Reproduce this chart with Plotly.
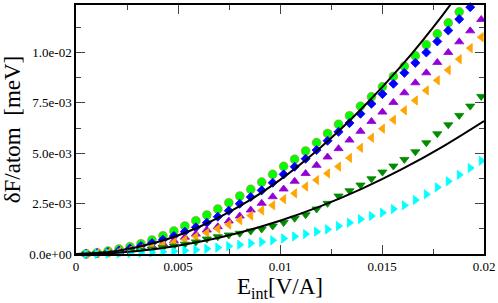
import plotly.graph_objects as go

# ---- data ----
e_field = [0.000495, 0.001033, 0.001571, 0.002109, 0.002647, 0.003185, 0.003723,
           0.004261, 0.004799, 0.005337, 0.005875, 0.006413, 0.006951, 0.007489,
           0.008027, 0.008565, 0.009103, 0.009641, 0.010179, 0.010717, 0.011255,
           0.011793, 0.012331, 0.012869, 0.013407, 0.013945, 0.014483, 0.015021,
           0.015559, 0.016097, 0.016635, 0.017173, 0.017711, 0.018249, 0.018787,
           0.019325, 0.019863]

green_circles = [0.00001, 0.000064, 0.000149, 0.000248, 0.000362, 0.000511, 0.000694,
                 0.000908, 0.001141, 0.001389, 0.001652, 0.001935, 0.002232, 0.002545,
                 0.002877, 0.003209, 0.003571, 0.003953, 0.00435, 0.004705, 0.005115,
                 0.00553, 0.005987, 0.00644, 0.00686, 0.00734, 0.007802, 0.008299,
                 0.008814, 0.009325, 0.009836, 0.010382, 0.010928, 0.011473, 0.012019]

blue_diamonds = [0.00001, 0.000042, 0.000096, 0.000173, 0.000273, 0.000396, 0.00054,
                 0.000708, 0.000893, 0.001106, 0.001324, 0.001553, 0.00185, 0.002148,
                 0.002495, 0.002827, 0.00316, 0.003537, 0.003953, 0.00433, 0.004727,
                 0.005159, 0.00562, 0.006066, 0.006498, 0.00696, 0.007456, 0.007937,
                 0.008448, 0.008993, 0.009489, 0.010005, 0.010551, 0.011096, 0.011657,
                 0.012252]

violet_up = [0.000007, 0.00003, 0.00007, 0.000126, 0.000198, 0.000287, 0.000392,
             0.000514, 0.00066, 0.00083, 0.00099, 0.00119, 0.001354, 0.001637,
             0.001885, 0.002183, 0.002515, 0.002842, 0.003225, 0.00361, 0.003995,
             0.0044, 0.004815, 0.00523, 0.005655, 0.00609, 0.006582, 0.007044,
             0.007525, 0.008001, 0.008497, 0.008993, 0.009509, 0.010005, 0.010531,
             0.011076, 0.011642]

orange_left = [0.000006, 0.000027, 0.000062, 0.000111, 0.000175, 0.000254, 0.000347,
               0.000454, 0.000576, 0.000713, 0.000863, 0.00105, 0.00125, 0.00146,
               0.00168, 0.00191, 0.00216, 0.00242, 0.00272, 0.00301, 0.00335,
               0.00367, 0.004, 0.00434, 0.00477, 0.00527, 0.00577, 0.00622,
               0.00666, 0.00713, 0.00762, 0.00812, 0.00862, 0.00913, 0.00967,
               0.01022, 0.01076]

darkgreen_down = [0.000004, 0.000018, 0.000042, 0.000076, 0.000119, 0.000172, 0.000236,
                  0.000309, 0.000392, 0.000484, 0.0006, 0.000744, 0.000858, 0.000942,
                  0.001027, 0.001141, 0.00124, 0.001389, 0.00156, 0.001771, 0.001949,
                  0.002232, 0.002515, 0.002877, 0.00314, 0.003423, 0.003735, 0.004068,
                  0.004365, 0.004697, 0.005074, 0.005521, 0.005967, 0.006414, 0.00688,
                  0.007341, 0.007822]

cyan_right = [0.000001, 0.000006, 0.000014, 0.000025, 0.00004, 0.00006, 0.00008,
              0.00011, 0.00014, 0.00017, 0.00021, 0.00026, 0.00032, 0.00039,
              0.00046, 0.00053, 0.0006, 0.00068, 0.00077, 0.00087, 0.00099,
              0.001106, 0.001225, 0.001389, 0.001553, 0.00173, 0.001885, 0.002049,
              0.002232, 0.002416, 0.002679, 0.002961, 0.003309, 0.003606, 0.003933,
              0.004266, 0.004628]

fit_x = [0.0, 0.002, 0.004, 0.006, 0.008, 0.01, 0.012, 0.014, 0.016, 0.018, 0.02]
fit_upper = [0.0, 0.000148, 0.000592, 0.00133, 0.00236, 0.00368, 0.0053,
             0.00721, 0.0094, 0.0119, 0.0147]
fit_lower = [0.0, 0.000066, 0.000264, 0.000594, 0.001056, 0.00165, 0.002376,
             0.003234, 0.004224, 0.005346, 0.0066]

x_tick_vals = [0, 0.005, 0.01, 0.015, 0.02]
x_tick_text = ["0", "0.005", "0.01", "0.015", "0.02"]
y_tick_vals = [0, 0.0025, 0.005, 0.0075, 0.01]
y_tick_text = ["0.0e+00", "2.5e-03", "5.0e-03", "7.5e-03", "1.0e-02"]
x_minor_vals = [0.0025, 0.0075, 0.0125, 0.0175]
y_minor_vals = [0.00125, 0.00375, 0.00625, 0.00875, 0.01125]

# ---- figure ----
fig = go.Figure()

series = [
    (green_circles, "circle", "#00ff00", 9, "rgba(255,90,90,0.55)"),
    (blue_diamonds, "diamond", "#0000ff", 7, "#0000ff"),
    (violet_up, "triangle-up", "#9400d3", 8, "#9400d3"),
    (orange_left, "triangle-left", "#ffa500", 8, "#ffa500"),
    (darkgreen_down, "triangle-down", "#008b00", 8, "#008b00"),
    (cyan_right, "triangle-right", "#00ffff", 8, "#00ffff"),
]
for vals, sym, col, size, edge in series:
    fig.add_trace(go.Scatter(
        x=e_field[:len(vals)], y=vals, mode="markers", cliponaxis=False,
        marker=dict(symbol=sym, color=col, size=size, line=dict(color=edge, width=0.8)),
        showlegend=False))

for vals in (fit_upper, fit_lower):
    fig.add_trace(go.Scatter(x=fit_x, y=vals, mode="lines", line_shape="spline",
                             line=dict(color="black", width=2), showlegend=False))

serif = "Liberation Serif"
axis_common = dict(
    showline=True, linecolor="black", linewidth=1.5, mirror="ticks",
    ticks="inside", ticklen=9, tickwidth=1.2, tickcolor="#444",
    showgrid=False, zeroline=False,
    tickfont=dict(family=serif, size=13, color="black"),
    minor=dict(tickmode="array", ticks="inside", ticklen=5, tickwidth=1.2, tickcolor="#444",
               showgrid=False),
)

fig.update_xaxes(**axis_common)
fig.update_xaxes(range=[0, 0.02], tickmode="array", tickvals=x_tick_vals, ticktext=x_tick_text,
                 minor_tickvals=x_minor_vals,
                 title=dict(text="E<sub>int</sub>[V/A]", font=dict(family=serif, size=23, color="black"),
                            standoff=2))
fig.update_yaxes(**axis_common)
fig.update_yaxes(range=[0, 0.01236], tickmode="array", tickvals=y_tick_vals, ticktext=y_tick_text,
                 minor_tickvals=y_minor_vals,
                 title=dict(text="δF/atom  [meV]", font=dict(family=serif, size=23, color="black"),
                            standoff=4))

fig.update_layout(
    width=498, height=303,
    margin=dict(l=76, r=14, t=5, b=49, autoexpand=False),
    paper_bgcolor="white", plot_bgcolor="white",
)

fig.write_html("out.html", config={"displayModeBar": False},
               post_script="document.body.style.margin='0';document.body.style.padding='0';")
